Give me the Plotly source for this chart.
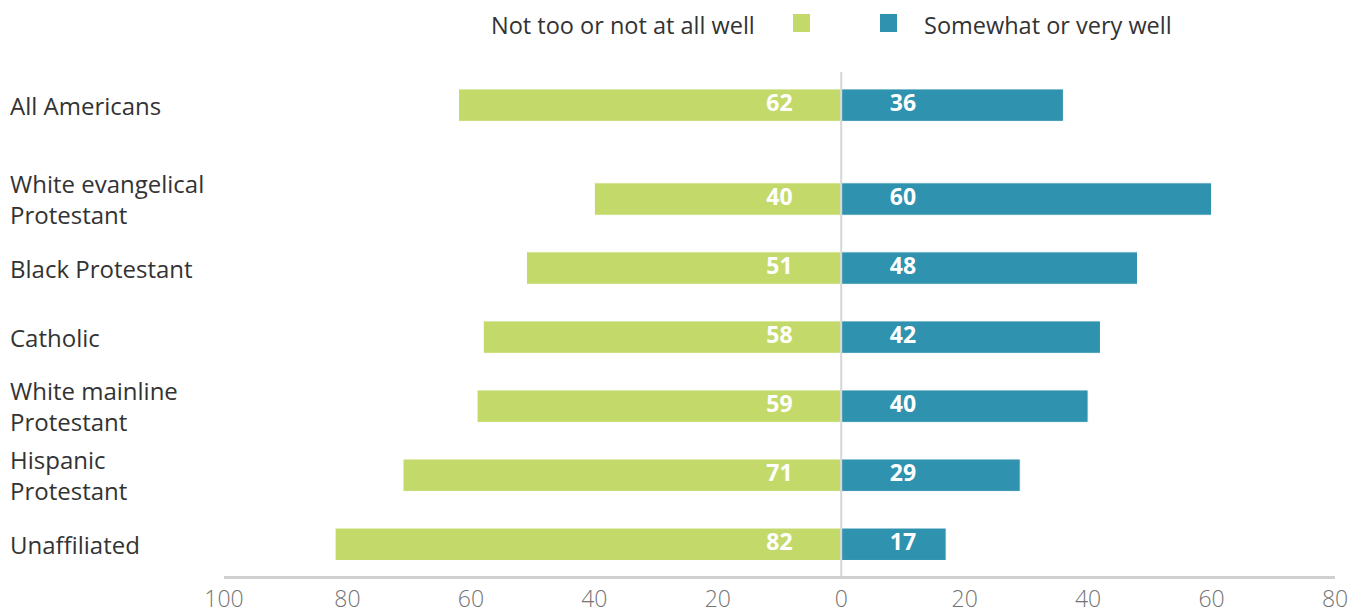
import plotly.graph_objects as go

groups = [
    "All Americans",
    "White evangelical<br>Protestant",
    "Black Protestant",
    "Catholic",
    "White mainline<br>Protestant",
    "Hispanic<br>Protestant",
    "Unaffiliated",
]
not_well = [62, 40, 51, 58, 59, 71, 82]
well = [36, 60, 48, 42, 40, 29, 17]
tick_vals = [-100, -80, -60, -40, -20, 0, 20, 40, 60, 80]
tick_text = ["100", "80", "60", "40", "20", "0", "20", "40", "60", "80"]

GREEN = "#c3da6b"
BLUE = "#2f92af"
FONT = "Open Sans"

# "All Americans" sits a bit apart from the other rows
ypos = [i + (0.36 if i > 0 else 0) for i in range(len(groups))]

# page body adds an 8px margin, so the figure is 8px smaller
OFF = 8
W, H = 1368 - OFF, 613 - OFF
ML, MR, MT, MB = 224 - OFF, 33, 72 - OFF, 37
PW, PH = W - ML - MR, H - MT - MB


def px(x):
    # page pixel -> paper x
    return (x - OFF - ML) / PW


def py(y):
    # page pixel -> paper y
    return (H - MB - (y - OFF)) / PH


fig = go.Figure()
fig.add_trace(go.Bar(
    y=ypos, x=[-v for v in not_well], orientation="h",
    marker=dict(color=GREEN, line=dict(color="white", width=1)),
    width=0.47, name="Not too or not at all well", showlegend=False,
))
fig.add_trace(go.Bar(
    y=ypos, x=well, orientation="h",
    marker=dict(color=BLUE, line=dict(color="white", width=1)),
    width=0.47, name="Somewhat or very well", showlegend=False,
))
# value labels near the zero line
fig.add_trace(go.Scatter(
    y=ypos, x=[-10] * len(ypos), mode="text", text=[str(v) for v in not_well],
    textfont=dict(family=FONT, size=23, color="white", weight="bold"),
    showlegend=False, hoverinfo="skip",
))
fig.add_trace(go.Scatter(
    y=ypos, x=[10] * len(ypos), mode="text", text=[str(v) for v in well],
    textfont=dict(family=FONT, size=23, color="white", weight="bold"),
    showlegend=False, hoverinfo="skip",
))

# zero line
fig.add_shape(type="line", xref="x", yref="paper", x0=0, x1=0, y0=0, y1=1,
              line=dict(color="#d6d6d6", width=2), layer="above")

# group labels, left aligned
for label, y in zip(groups, ypos):
    fig.add_annotation(x=px(8), xref="paper", y=y, yref="y", text=label,
                       showarrow=False, xanchor="left", align="left",
                       font=dict(family=FONT, size=24, color="#333333"))

# legend drawn by hand: text before the green swatch
fig.add_annotation(x=px(757), y=py(25), xref="paper", yref="paper",
                   text="Not too or not at all well", showarrow=False,
                   xanchor="right", yanchor="middle",
                   font=dict(family=FONT, size=23.5, color="#333333"))
fig.add_shape(type="rect", xref="paper", yref="paper",
              x0=px(793), x1=px(810), y0=py(32), y1=py(14),
              fillcolor=GREEN, line=dict(width=0))
fig.add_shape(type="rect", xref="paper", yref="paper",
              x0=px(880), x1=px(897), y0=py(32), y1=py(14),
              fillcolor=BLUE, line=dict(width=0))
fig.add_annotation(x=px(922), y=py(25), xref="paper", yref="paper",
                   text="Somewhat or very well", showarrow=False,
                   xanchor="left", yanchor="middle",
                   font=dict(family=FONT, size=23.5, color="#333333"))

fig.update_layout(
    width=W, height=H,
    margin=dict(l=ML, r=MR, t=MT, b=MB),
    barmode="overlay",
    plot_bgcolor="white", paper_bgcolor="white",
    xaxis=dict(range=[-100, 80], tickvals=tick_vals, ticktext=tick_text,
               showgrid=False, zeroline=False, showline=True,
               linecolor="#d0d0d0", linewidth=3, ticks="", automargin=False,
               tickfont=dict(family=FONT, size=23, color="#747474", weight=300),
               fixedrange=True),
    yaxis=dict(range=[6.82, -0.48], showticklabels=False, showgrid=False,
               zeroline=False, fixedrange=True, automargin=False),
)

fig.write_html("out.html")
